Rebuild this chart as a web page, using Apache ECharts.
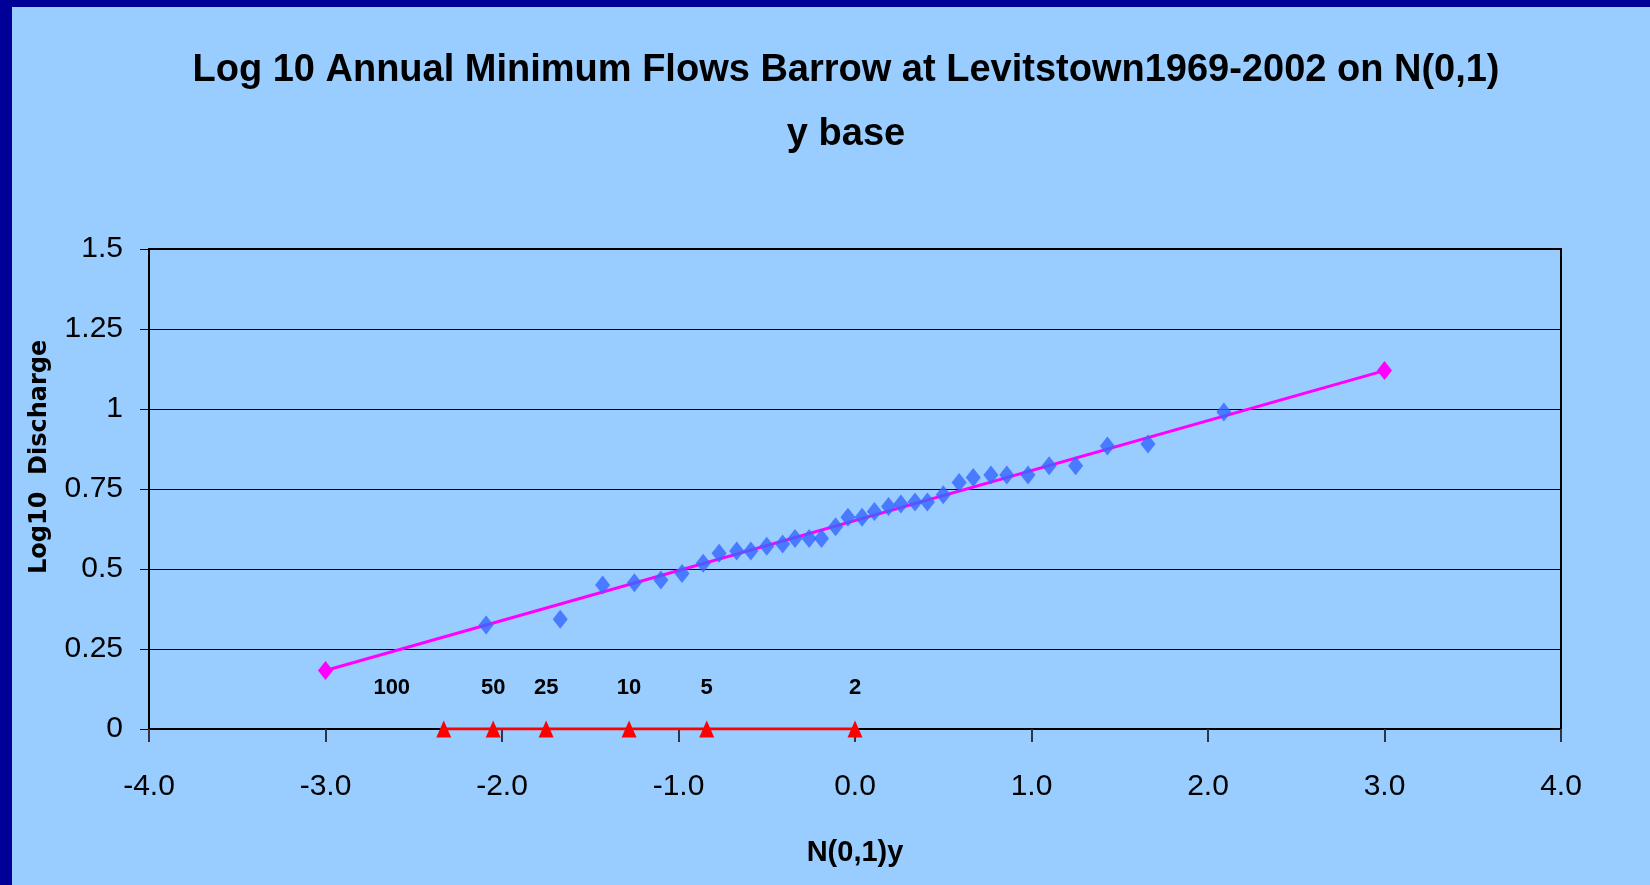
<!DOCTYPE html>
<html>
<head>
<meta charset="utf-8">
<script src="https://cdn.jsdelivr.net/npm/echarts@6/dist/echarts.min.js"></script>
<style>
  html, body { margin: 0; padding: 0; background: #99ccff; }
  #main { width: 1650px; height: 885px; }
</style>
</head>
<body>
<div id="main"></div>
<script>
// observed points, N(0,1) plotting position vs log10 flow
const obsX = [-2.09, -1.67, -1.43, -1.25, -1.10, -0.98, -0.86, -0.77, -0.67, -0.59, -0.50, -0.41, -0.34, -0.26, -0.19, -0.11, -0.04,
  0.04, 0.11, 0.19, 0.26, 0.34, 0.41, 0.50, 0.59, 0.67, 0.77, 0.86, 0.98, 1.10, 1.25, 1.43, 1.66, 2.09]
const obsY = [0.325, 0.343, 0.450, 0.457, 0.466, 0.486, 0.518, 0.549, 0.556, 0.556, 0.571, 0.578, 0.595, 0.595, 0.595, 0.632, 0.662,
  0.662, 0.680, 0.695, 0.703, 0.709, 0.709, 0.732, 0.770, 0.786, 0.794, 0.794, 0.794, 0.823, 0.823, 0.884, 0.891, 0.991]

// fitted normal line end points
const fitX = [-3.0, 3.0]
const fitY = [0.183, 1.12]

// return period markers along the x axis
const periodLabels = ['100', '50', '25', '10', '5', '2']
const periodX = [-2.33, -2.05, -1.75, -1.28, -0.84, 0.0]

const xTicks = [-4, -3, -2, -1, 0, 1, 2, 3, 4]
const yTicks = [0, 0.25, 0.5, 0.75, 1, 1.25, 1.5]

const FONT = '"Liberation Sans", Arial, sans-serif'

let myChart = echarts.init(document.getElementById('main'))

let option = {
  backgroundColor: '#99ccff',
  animation: false,
  title: {
    text: 'Log 10 Annual Minimum Flows Barrow at Levitstown1969-2002 on N(0,1)\ny base',
    left: 841,
    top: 34,
    textAlign: 'center',
    textStyle: {
      fontFamily: FONT,
      fontWeight: 'bold',
      fontSize: 38,
      lineHeight: 64,
      color: '#000'
    }
  },
  graphic: [
    { type: 'rect', left: 0, top: 0, shape: { width: 1650, height: 7 }, style: { fill: '#000099' } },
    { type: 'rect', left: 0, top: 0, shape: { width: 12, height: 885 }, style: { fill: '#000099' } },
    {
      type: 'text',
      x: 40,
      y: 574,
      rotation: Math.PI / 2,
      style: {
        text: 'Log10  Discharge',
        font: 'bold 24px "DejaVu Sans", sans-serif',
        fill: '#000',
        align: 'left',
        verticalAlign: 'middle'
      }
    }
  ],
  grid: {
    left: 149,
    right: 89,
    top: 249,
    bottom: 156,
    show: true,
    borderColor: '#000',
    borderWidth: 2,
    backgroundColor: 'transparent'
  },
  xAxis: {
    type: 'value',
    min: xTicks[0],
    max: xTicks[xTicks.length - 1],
    interval: 1,
    name: 'N(0,1)y',
    nameLocation: 'middle',
    nameGap: 109,
    nameTextStyle: { fontFamily: FONT, fontWeight: 'bold', fontSize: 29, color: '#000' },
    axisLine: { onZero: false, lineStyle: { color: '#000', width: 2 } },
    axisTick: { show: true, length: 13, lineStyle: { color: '#334', width: 2 } },
    axisLabel: {
      margin: 43,
      fontFamily: FONT,
      fontSize: 30,
      color: '#000',
      formatter: v => v.toFixed(1)
    },
    splitLine: { show: false }
  },
  yAxis: {
    type: 'value',
    min: yTicks[0],
    max: yTicks[yTicks.length - 1],
    interval: 0.25,
    axisLine: { show: true, onZero: false, lineStyle: { color: '#000', width: 2 } },
    axisTick: { show: true, length: 9, lineStyle: { color: '#000', width: 1 } },
    axisLabel: { margin: 26, fontFamily: FONT, fontSize: 30, color: '#000' },
    splitLine: { show: true, lineStyle: { color: '#000', width: 1 } }
  },
  series: [
    {
      name: 'period',
      type: 'line',
      data: periodX.map((x, i) => {
        let item = { value: [x, 0] }
        if (i === 0) item.label = { offset: [-52, 0] }
        return item
      }),
      symbol: 'triangle',
      symbolSize: [15, 17],
      itemStyle: { color: '#ff0000' },
      lineStyle: { color: '#ff0000', width: 3 },
      label: {
        show: true,
        position: 'top',
        distance: 22,
        fontFamily: FONT,
        fontWeight: 'bold',
        fontSize: 22,
        color: '#000',
        formatter: p => periodLabels[p.dataIndex]
      },
      z: 3
    },
    {
      name: 'fit',
      type: 'line',
      data: fitX.map((x, i) => [x, fitY[i]]),
      symbol: 'diamond',
      symbolSize: [15, 19],
      itemStyle: { color: '#ff00ff' },
      lineStyle: { color: '#ff00ff', width: 3 },
      z: 3
    },
    {
      name: 'observed',
      type: 'scatter',
      data: obsX.map((x, i) => [x, obsY[i]]),
      symbol: 'diamond',
      symbolSize: [15, 19],
      itemStyle: { color: '#3366ff' },
      z: 4
    }
  ]
}

myChart.setOption(option)
</script>
</body>
</html>
